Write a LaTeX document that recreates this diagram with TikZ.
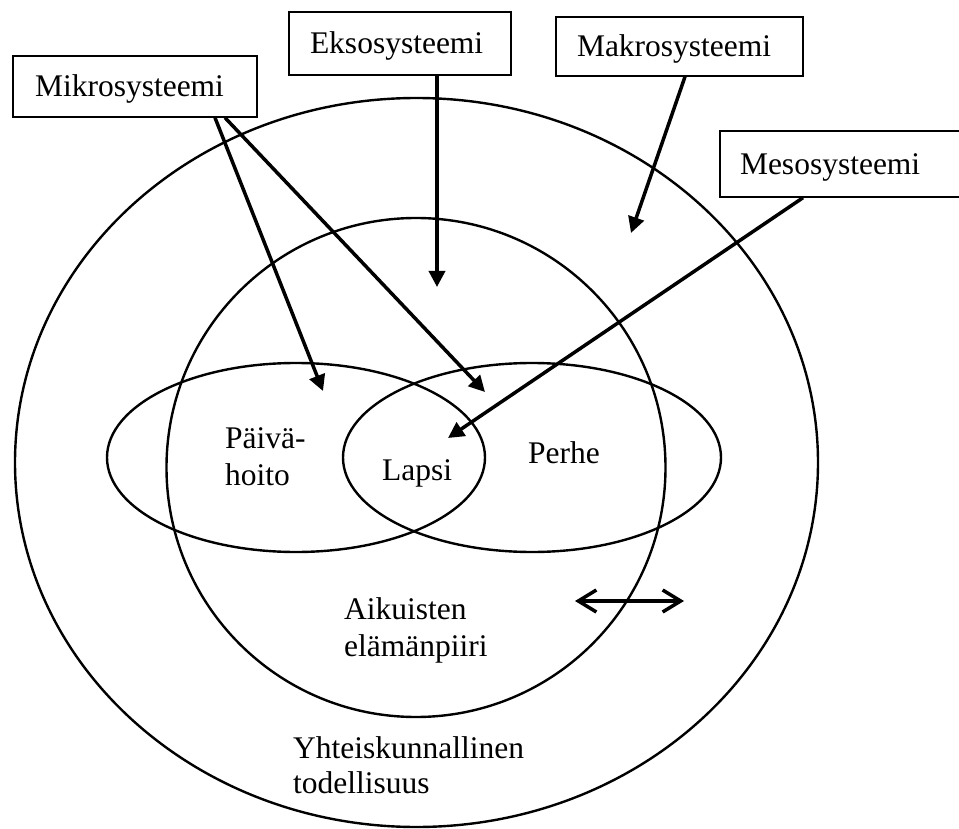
\documentclass[tikz,border=0pt]{standalone}
\usepackage{fontspec}
\setmainfont{Liberation Serif}
\usetikzlibrary{arrows.meta,calc}

\begin{document}
\begin{tikzpicture}[x=1pt,y=-1pt,
  ring/.style={draw, line width=2.4pt},
  sysbox/.style={draw, line width=1.4pt, fill=white, inner ysep=0pt,
    align=left, text height=21pt, text depth=0pt,
    font=\fontsize{31.5}{36}\selectfont},
  txt/.style={font=\fontsize{31.5}{37}\selectfont, align=left,
    anchor=base west, inner sep=0pt},
  pointer/.style={line width=3.5pt, -{Triangle[length=16pt,width=16pt]}},
  twoway/.style={line width=3.5pt,
    {Straight Barb[length=18pt,width=22pt]}-{Straight Barb[length=18pt,width=22pt]}},
]
\useasboundingbox (0,0) rectangle (959,829);

% nested spheres
\draw[ring] (416.5,462.5) ellipse [x radius=401.5pt, y radius=364.5pt];
\draw[ring] (416,467.5) circle [radius=249.5pt];
\draw[ring] (296,457.5) ellipse [x radius=189pt, y radius=94.5pt];
\draw[ring] (532,457.5) ellipse [x radius=189pt, y radius=94.5pt];

% level boxes
\node[sysbox, minimum height=61pt, inner xsep=22pt, text width=200pt] (mikro) at (135,86.5) {Mikrosysteemi};
\node[sysbox, minimum height=63pt, inner xsep=21pt, text width=180pt] (ekso) at (400,43.5) {Eksosysteemi};
\node[sysbox, minimum height=59pt, inner xsep=21pt, text width=205pt] (makro) at (679.5,46.5) {Makrosysteemi};
\node[sysbox, minimum height=66pt, inner xsep=20pt, text width=205pt] (meso) at (842.5,164) {Mesosysteemi};

% arrow targets
\coordinate (tPaiva) at (323,391);
\coordinate (tLapsi1) at (485,392);
\coordinate (tEkso) at (437,287);
\coordinate (tMakro) at (631,233);
\coordinate (tLapsi2) at (448,438);
\coordinate (dL) at (575,601);
\coordinate (dR) at (684,601);

\draw[pointer] ([xshift=80pt]mikro.south) -- (tPaiva);
\draw[pointer] ([xshift=90pt]mikro.south) -- (tLapsi1);
\draw[pointer] ([xshift=37pt]ekso.south) -- (tEkso);
\draw[pointer] ([xshift=5.5pt]makro.south) -- (tMakro);
\draw[pointer] ([xshift=-39.5pt]meso.south) -- (tLapsi2);
\draw[twoway] (dL) -- (dR);

% labels (anchored at the baseline of the last line)
\node[txt] (paiva) at (225,485) {Päivä-\\hoito};
\node[txt] (lapsi) at (382,480) {Lapsi};
\node[txt] (perhe) at (528,463) {Perhe};
\node[txt] (aikuis) at (344,656) {Aikuisten\\elämänpiiri};
\node[txt, font=\fontsize{31.5}{35}\selectfont] (yhteis) at (293,793) {Yhteiskunnallinen\\todellisuus};
\end{tikzpicture}
\end{document}
